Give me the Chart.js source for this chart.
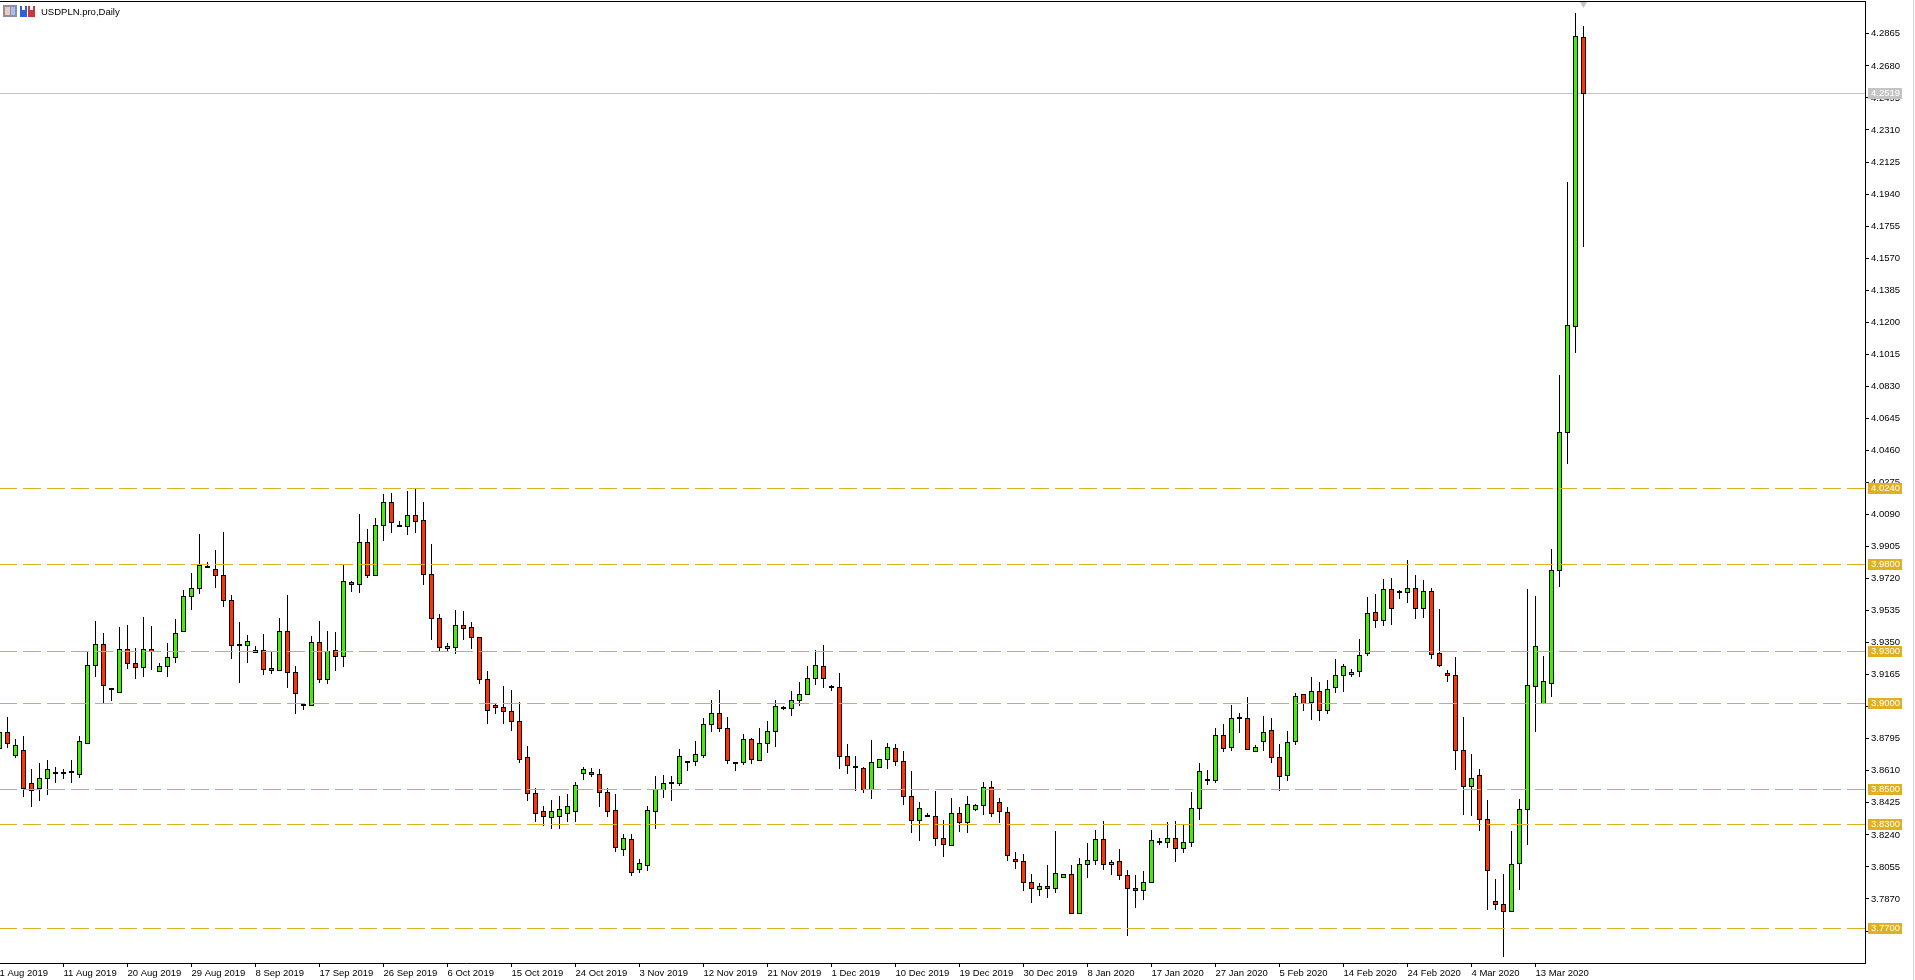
<!DOCTYPE html>
<html>
<head>
<meta charset="utf-8">
<title>USDPLN.pro,Daily</title>
<script src="https://cdn.jsdelivr.net/npm/chart.js@4/dist/chart.umd.min.js"></script>
<style>
  html, body { margin: 0; padding: 0; background: #fff; overflow: hidden; }
  canvas { display: block; }
</style>
</head>
<body>
<canvas id="grafico" width="1915" height="980"></canvas>
<script>
// USDPLN daily candles
const opens = [
  3.8740,3.8831,3.8699,3.8727,3.8537,3.8509,3.8566,3.8594,3.8594,3.8601,
  3.8587,3.8770,3.9216,3.9339,3.9079,3.9060,3.9310,3.9230,3.9205,3.9310,
  3.9181,3.9212,3.9262,3.9412,3.9616,3.9661,3.9790,3.9772,3.9738,3.9593,
  3.9333,3.9332,3.9305,3.9305,3.9201,3.9189,3.9414,3.9178,3.8987,3.8987,
  3.9351,3.9135,3.9305,3.9270,3.9697,3.9686,3.9928,3.9736,4.0026,4.0159,
  4.0020,4.0020,4.0084,4.0055,3.9743,3.9489,3.9314,3.9322,3.9449,3.9437,
  3.9380,3.9137,3.8987,3.8975,3.8952,3.8895,3.8685,3.8481,3.8375,3.8340,
  3.8347,3.8361,3.8375,3.8593,3.8600,3.8586,3.8487,3.8382,3.8157,3.8213,
  3.8043,3.8065,3.8375,3.8500,3.8536,3.8535,3.8660,3.8662,3.8696,3.8875,
  3.8941,3.8854,3.8654,3.8658,3.8791,3.8669,3.8767,3.8837,3.8975,3.8969,
  3.9016,3.9050,3.9143,3.9212,3.9091,3.9091,3.8692,3.8629,3.8623,3.8500,
  3.8629,3.8675,3.8739,3.8663,3.8461,3.8323,3.8346,3.8346,3.8219,3.8179,
  3.8363,3.8311,3.8386,3.8409,3.8513,3.8427,3.8369,3.8098,3.8086,3.7965,
  3.7924,3.7942,3.7930,3.7994,3.8011,3.7786,3.8069,3.8092,3.8213,3.8069,
  3.8086,3.8005,3.7930,3.7919,3.7965,3.8202,3.8196,3.8219,3.8161,3.8196,
  3.8392,3.8554,3.8554,3.8814,3.8744,3.8912,3.8912,3.8721,3.8779,3.8842,
  3.8687,3.8583,3.8778,3.9051,3.9005,3.9068,3.8957,3.9091,3.9161,3.9166,
  3.9184,3.9288,3.9524,3.9478,3.9657,3.9638,3.9640,3.9663,3.9547,3.9646,
  3.9288,3.9172,3.9161,3.8728,3.8520,3.8583,3.8329,3.7856,3.7839,3.7798,
  3.8075,3.8387,3.9097,3.8999,3.9114,3.9766,4.0563,4.1175,4.2844
];
const highs = [
  3.8920,3.8920,3.8791,3.8810,3.8615,3.8650,3.8671,3.8629,3.8615,3.8671,
  3.8810,3.9295,3.9474,3.9403,3.9085,3.9439,3.9451,3.9318,3.9497,3.9445,
  3.9231,3.9347,3.9485,3.9653,3.9751,3.9974,3.9815,3.9884,3.9988,3.9622,
  3.9468,3.9393,3.9328,3.9399,3.9295,3.9491,3.9624,3.9214,3.8995,3.9387,
  3.9474,3.9416,3.9410,3.9797,3.9703,4.0092,4.0005,4.0069,4.0207,4.0213,
  4.0051,4.0224,4.0236,4.0161,3.9918,3.9514,3.9347,3.9537,3.9532,3.9468,
  3.9380,3.9185,3.8995,3.9099,3.9076,3.9006,3.8749,3.8509,3.8403,3.8439,
  3.8460,3.8474,3.8544,3.8629,3.8625,3.8615,3.8509,3.8474,3.8241,3.8241,
  3.8100,3.8403,3.8580,3.8585,3.8579,3.8735,3.8665,3.8781,3.8914,3.9018,
  3.9075,3.8919,3.8660,3.8821,3.8798,3.8856,3.8896,3.9018,3.8983,3.9070,
  3.9122,3.9214,3.9306,3.9335,3.9104,3.9173,3.8764,3.8694,3.8629,3.8787,
  3.8675,3.8769,3.8764,3.8723,3.8608,3.8429,3.8365,3.8492,3.8325,3.8452,
  3.8400,3.8463,3.8417,3.8544,3.8550,3.8452,3.8400,3.8140,3.8128,3.8013,
  3.7961,3.8065,3.8261,3.8011,3.8065,3.8105,3.8192,3.8267,3.8319,3.8094,
  3.8157,3.8036,3.8007,3.8030,3.8267,3.8221,3.8313,3.8319,3.8296,3.8486,
  3.8654,3.8613,3.8856,3.8879,3.8989,3.8942,3.9035,3.8758,3.8925,3.8914,
  3.8763,3.8839,3.9059,3.9053,3.9151,3.9122,3.9134,3.9255,3.9226,3.9197,
  3.9370,3.9613,3.9630,3.9717,3.9723,3.9653,3.9827,3.9740,3.9711,3.9665,
  3.9544,3.9191,3.9267,3.8920,3.8706,3.8620,3.8441,3.7985,3.8014,3.8262,
  3.8447,3.9659,3.9619,3.9272,3.9890,4.0894,4.2008,4.2984,4.2909
];
const lows = [
  3.8715,3.8742,3.8685,3.8460,3.8403,3.8439,3.8474,3.8544,3.8566,3.8544,
  3.8573,3.8768,3.9153,3.9002,3.9014,3.9060,3.9203,3.9145,3.9156,3.9197,
  3.9181,3.9156,3.9237,3.9412,3.9543,3.9636,3.9784,3.9670,3.9561,3.9260,
  3.9122,3.9237,3.9291,3.9168,3.9174,3.9189,3.9093,3.8943,3.8966,3.8985,
  3.9122,3.9116,3.9191,3.9214,3.9647,3.9641,3.9728,3.9736,3.9942,3.9988,
  4.0020,3.9976,3.9988,3.9688,3.9370,3.9299,3.9299,3.9289,3.9370,3.9318,
  3.9116,3.8885,3.8943,3.8885,3.8845,3.8657,3.8439,3.8319,3.8297,3.8276,
  3.8276,3.8319,3.8319,3.8558,3.8575,3.8403,3.8347,3.8142,3.8121,3.8008,
  3.8022,3.8036,3.8276,3.8458,3.8440,3.8527,3.8613,3.8642,3.8689,3.8839,
  3.8839,3.8654,3.8613,3.8648,3.8654,3.8669,3.8717,3.8752,3.8966,3.8931,
  3.8989,3.9050,3.9110,3.9093,3.9075,3.8625,3.8596,3.8498,3.8486,3.8452,
  3.8629,3.8625,3.8642,3.8417,3.8255,3.8209,3.8344,3.8180,3.8117,3.8177,
  3.8261,3.8255,3.8383,3.8359,3.8348,3.8313,3.8094,3.8048,3.7921,3.7851,
  3.7892,3.7880,3.7909,3.7994,3.7784,3.7784,3.7996,3.8071,3.8042,3.8013,
  3.7984,3.7661,3.7822,3.7869,3.7965,3.8186,3.8169,3.8088,3.8140,3.8175,
  3.8330,3.8533,3.8544,3.8723,3.8729,3.8833,3.8733,3.8721,3.8729,3.8660,
  3.8498,3.8556,3.8764,3.8961,3.8909,3.8903,3.8943,3.9064,3.9070,3.9157,
  3.9157,3.9276,3.9440,3.9451,3.9457,3.9607,3.9584,3.9492,3.9497,3.9261,
  3.9215,3.9128,3.8620,3.8360,3.8354,3.8268,3.7812,3.7812,3.7540,3.7796,
  3.7927,3.8187,3.8839,3.8999,3.9041,3.9676,4.0386,4.1027,4.1635
];
const closes = [
  3.8831,3.8770,3.8756,3.8509,3.8495,3.8566,3.8615,3.8595,3.8597,3.8600,
  3.8777,3.9218,3.9339,3.9101,3.9080,3.9310,3.9228,3.9205,3.9310,3.9299,
  3.9212,3.9264,3.9403,3.9616,3.9663,3.9795,3.9785,3.9736,3.9593,3.9333,
  3.9334,3.9357,3.9293,3.9193,3.9189,3.9414,3.9178,3.9056,3.8988,3.9351,
  3.9135,3.9299,3.9268,3.9703,3.9686,3.9928,3.9736,4.0026,4.0159,4.0044,
  4.0021,4.0084,4.0047,3.9741,3.9489,3.9322,3.9328,3.9449,3.9432,3.9380,
  3.9137,3.8958,3.8975,3.8952,3.8895,3.8678,3.8481,3.8361,3.8347,3.8375,
  3.8389,3.8403,3.8523,3.8615,3.8590,3.8487,3.8375,3.8170,3.8220,3.8022,
  3.8072,3.8382,3.8502,3.8536,3.8537,3.8692,3.8661,3.8704,3.8877,3.8941,
  3.8854,3.8669,3.8655,3.8791,3.8675,3.8767,3.8837,3.8981,3.8969,3.9016,
  3.9050,3.9143,3.9218,3.9143,3.9092,3.8692,3.8640,3.8630,3.8500,3.8658,
  3.8675,3.8744,3.8663,3.8461,3.8323,3.8392,3.8347,3.8219,3.8184,3.8363,
  3.8311,3.8415,3.8409,3.8513,3.8363,3.8375,3.8121,3.8086,3.7965,3.7930,
  3.7942,3.7930,3.8017,3.8011,3.7786,3.8069,3.8092,3.8213,3.8069,3.8080,
  3.8005,3.7930,3.7919,3.7965,3.8207,3.8196,3.8219,3.8161,3.8196,3.8392,
  3.8606,3.8555,3.8814,3.8738,3.8912,3.8913,3.8733,3.8744,3.8831,3.8687,
  3.8577,3.8773,3.9039,3.8999,3.9068,3.8959,3.9080,3.9161,3.9213,3.9178,
  3.9276,3.9519,3.9478,3.9657,3.9547,3.9639,3.9663,3.9547,3.9646,3.9282,
  3.9218,3.9161,3.8728,3.8520,3.8566,3.8329,3.8035,3.7837,3.7796,3.8069,
  3.8387,3.9103,3.9328,3.9126,3.9767,4.0563,4.1181,4.2850,4.2520
];

// one label every 8 bars
const dateLabels = [
  '1 Aug 2019','11 Aug 2019','20 Aug 2019','29 Aug 2019','8 Sep 2019','17 Sep 2019','26 Sep 2019',
  '6 Oct 2019','15 Oct 2019','24 Oct 2019','3 Nov 2019','12 Nov 2019','21 Nov 2019','1 Dec 2019',
  '10 Dec 2019','19 Dec 2019','30 Dec 2019','8 Jan 2020','17 Jan 2020','27 Jan 2020','5 Feb 2020',
  '14 Feb 2020','24 Feb 2020','4 Mar 2020','13 Mar 2020'
];
const priceTicks = [
  4.2865,4.2680,4.2495,4.2310,4.2125,4.1940,4.1755,4.1570,4.1385,4.1200,4.1015,4.0830,4.0645,4.0460,
  4.0275,4.0090,3.9905,3.9720,3.9535,3.9350,3.9165,3.8980,3.8795,3.8610,3.8425,3.8240,3.8055,3.7870,3.7685
];
const levels = [4.0240, 3.9800, 3.9300, 3.9000, 3.8500, 3.8300, 3.7700];
const lastPrice = 4.2519;
const markerPrice = 4.3042;

const VERDE = '#44ee00';
const VERMELHO = '#ff3300';
const DOURADO = '#e0b020';
const CINZA = '#c4c4c4';
const FONTE = '9.5px "Liberation Sans", Arial, sans-serif';

Chart.defaults.font.family = '"Liberation Sans", Arial, sans-serif';
Chart.defaults.font.size = 9.5;
Chart.defaults.color = '#000';

const xMin = 0.0625, xMax = 233.1875;
const yMax = 4.30547, yMin = 3.75004;

function linhaHorizontal(valor, cor, tracejado, ordem) {
  return {
    type: 'line',
    data: [{ x: xMin, y: valor }, { x: xMax, y: valor }],
    borderColor: cor,
    borderWidth: 1,
    borderDash: tracejado,
    borderDashOffset: 1,
    pointRadius: 0,
    order: ordem
  };
}

const datasets = [];
levels.forEach(v => datasets.push(linhaHorizontal(v, DOURADO, [18, 6], 0)));
datasets.push({
  type: 'line',
  data: [{ x: opens.length - 1, y: markerPrice }],
  showLine: false,
  pointStyle: 'triangle',
  rotation: 180,
  pointRadius: 4.5,
  pointBackgroundColor: CINZA,
  pointBorderWidth: 0,
  order: 0
});
datasets.push({
  type: 'bar',
  data: opens.map((o, i) => ({ x: i, y: [o, closes[i]] })),
  backgroundColor: opens.map((o, i) => closes[i] >= o ? VERDE : VERMELHO),
  borderColor: '#000',
  borderWidth: 1,
  borderSkipped: false,
  inflateAmount: 0,
  barThickness: 5,
  minBarLength: 1,
  grouped: false,
  order: 1
});
datasets.push({
  type: 'bar',
  data: lows.map((l, i) => ({ x: i, y: [l, highs[i]] })),
  backgroundColor: '#000',
  borderWidth: 0,
  inflateAmount: 0,
  barThickness: 1,
  grouped: false,
  order: 2
});
datasets.push(linhaHorizontal(lastPrice, CINZA, [], 3));

// snaps bars and lines to whole pixels so they stay crisp like the original terminal
const pixelCerto = {
  id: 'pixelCerto',
  afterDatasetsUpdate(chart) {
    chart.data.datasets.forEach((ds, n) => {
      const meta = chart.getDatasetMeta(n);
      meta.data.forEach(el => {
        if (ds.type === 'bar') {
          const topo = Math.floor(Math.min(el.y, el.base));
          const fundo = Math.floor(Math.max(el.y, el.base)) + 1;
          el.y = topo;
          el.base = fundo;
          el.height = fundo - topo;
        } else {
          el.y = Math.floor(el.y) + 0.5;
        }
      });
    });
  }
};

function caixaPreco(ctx, y, valor, cor) {
  const topo = Math.floor(y) - 5;
  ctx.fillStyle = cor;
  ctx.fillRect(1868, topo, 34, 11);
  ctx.fillStyle = '#fff';
  ctx.font = FONTE;
  ctx.textBaseline = 'middle';
  ctx.textAlign = 'left';
  ctx.fillText(valor.toFixed(4), 1871, topo + 5.5);
}

const moldura = {
  id: 'moldura',
  afterDraw(chart) {
    const ctx = chart.ctx;
    const yEscala = chart.scales.y;
    ctx.save();
    ctx.fillStyle = '#000';
    ctx.fillRect(0, 1, 1866, 1);
    ctx.fillStyle = '#d4d4d4';
    ctx.fillRect(1913, 0, 1, 980);

    caixaPreco(ctx, yEscala.getPixelForValue(lastPrice), lastPrice, CINZA);
    levels.forEach(v => caixaPreco(ctx, yEscala.getPixelForValue(v), v, DOURADO));

    // window icons beside the title
    ctx.fillStyle = '#8a8fa8';
    ctx.fillRect(3, 5, 14, 12);
    ctx.fillStyle = '#f4c8b8';
    ctx.fillRect(5, 7, 5, 8);
    ctx.fillStyle = '#a8c0f0';
    ctx.fillRect(11, 7, 4, 8);
    ctx.fillStyle = '#2f5fd8';
    ctx.fillRect(20, 6, 7, 11);
    ctx.fillStyle = '#c83838';
    ctx.fillRect(28, 6, 7, 11);
    ctx.fillStyle = '#fff';
    ctx.fillRect(22, 6, 3, 4);
    ctx.fillRect(30, 6, 3, 4);

    ctx.fillStyle = '#000';
    ctx.font = FONTE;
    ctx.textAlign = 'left';
    ctx.textBaseline = 'middle';
    ctx.fillText('USDPLN.pro,Daily', 41, 12);
    ctx.restore();
  }
};

new Chart(document.getElementById('grafico').getContext('2d'), {
  type: 'bar',
  data: { datasets },
  plugins: [pixelCerto, moldura],
  options: {
    responsive: false,
    animation: false,
    events: [],
    layout: { autoPadding: false, padding: { top: 1 } },
    plugins: { legend: { display: false }, tooltip: { enabled: false }, title: { display: false } },
    scales: {
      x: {
        type: 'linear',
        min: xMin,
        max: xMax,
        offset: false,
        grid: { display: true, offset: false, drawOnChartArea: false, tickLength: 4, color: '#000' },
        border: { display: true, color: '#000' },
        afterBuildTicks: s => { s.ticks = dateLabels.map((d, i) => ({ value: i * 8 })); },
        afterFit: s => { s.height = 17; s.paddingLeft = 0; s.paddingRight = 0; },
        ticks: {
          autoSkip: false,
          maxRotation: 0,
          minRotation: 0,
          align: 'start',
          padding: 1,
          callback: v => dateLabels[v / 8]
        }
      },
      y: {
        type: 'linear',
        position: 'right',
        min: yMin,
        max: yMax,
        grid: { display: true, drawOnChartArea: false, tickLength: 4, color: '#000' },
        border: { display: true, color: '#000' },
        afterBuildTicks: s => { s.ticks = priceTicks.map(v => ({ value: v })); },
        afterFit: s => { s.width = 50; s.paddingTop = 0; s.paddingBottom = 0; },
        ticks: {
          autoSkip: false,
          crossAlign: 'near',
          padding: 2,
          callback: v => v.toFixed(4)
        }
      }
    }
  }
});
</script>
</body>
</html>
